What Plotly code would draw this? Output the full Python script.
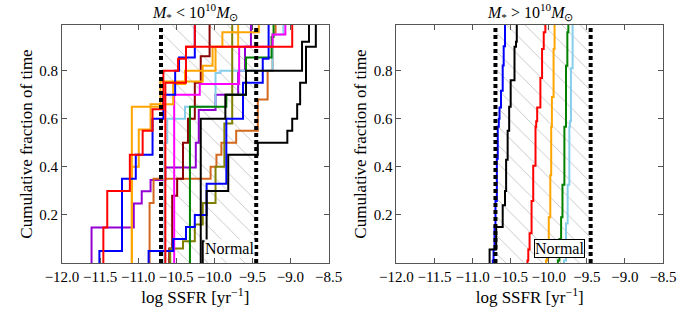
import plotly.graph_objects as go

# ---------------- data ----------------
X_TICKS = [-12.0, -11.5, -11.0, -10.5, -10.0, -9.5, -9.0, -8.5]
Y_TICKS = [0.2, 0.4, 0.6, 0.8]
X_RANGE = [-12.0, -8.5]
Y_RANGE = [0.0, 0.99]
NORMAL_LO = -10.70
NORMAL_HI = -9.45

# left panel (M* < 1e10): ssfr values and cumulative fraction after each value
red_a_x = [-11.457, -11.406, -11.109, -10.941, -10.811, -10.669, -10.476, -10.372, -10.256]
red_a_f = [0.148, 0.30, 0.45, 0.55, 0.64, 0.80, 0.85, 0.90, 1.0]
red_b_x = [-10.643, -10.372, -8.977]
red_b_f = [0.75, 0.90, 1.0]
blue_a_x = [-11.509, -11.212, -11.031, -10.811, -10.669, -10.514, -10.463, -10.256]
blue_a_f = [0.05, 0.35, 0.45, 0.60, 0.70, 0.80, 0.855, 1.0]
blue_b_x = [-10.863, -10.540, -10.372, -10.256, -10.101, -9.842, -9.623, -9.364, -9.287]
blue_b_f = [0.05, 0.10, 0.15, 0.20, 0.33, 0.60, 0.75, 0.85, 1.0]
orange_a_x = [-11.083, -10.708, -10.152, -10.023, -9.687]
orange_a_f = [0.65, 0.755, 0.82, 0.90, 1.0]
orange_b_x = [-11.083, -10.992, -10.837, -10.540, -10.385, -9.984, -9.894, -9.416]
orange_b_f = [0.40, 0.555, 0.66, 0.745, 0.80, 0.90, 0.96, 1.0]
magenta_x = [-10.527, -10.191, -9.674, -9.235, -9.067]
magenta_f = [0.70, 0.745, 0.90, 0.95, 1.0]
purple_x = [-11.612, -11.057, -10.953, -10.837, -10.643, -10.243, -10.204, -9.984, -9.687, -9.597, -9.519]
purple_f = [0.148, 0.248, 0.298, 0.345, 0.397, 0.50, 0.636, 0.70, 0.80, 0.90, 1.0]
green_x = [-10.320, -9.842, -9.584, -9.248, -9.222]
green_f = [0.65, 0.70, 0.855, 0.94, 1.0]
olive_x = [-10.579, -10.411, -10.256, -10.152, -9.984, -9.868, -9.765]
olive_f = [0.06, 0.09, 0.16, 0.25, 0.40, 0.58, 1.0]
maroon_x = [-10.592, -10.553, -10.488, -10.411, -10.346, -10.256, -10.178, -10.062]
maroon_f = [0.06, 0.28, 0.35, 0.50, 0.60, 0.75, 0.86, 1.0]
skyblue_x = [-10.656, -10.618, -10.385, -9.984, -9.920, -9.235, -9.093]
skyblue_f = [0.50, 0.60, 0.65, 0.79, 0.80, 0.95, 1.0]
choc_x = [-10.850, -10.798, -10.049, -9.972, -9.907, -9.713, -9.429, -9.300, -9.235, -9.196]
choc_f = [0.25, 0.35, 0.40, 0.45, 0.50, 0.55, 0.68, 0.80, 0.95, 1.0]
black_a_x = [-10.152, -10.101, -9.817, -9.429, -9.041, -8.977, -8.912, -8.873, -8.796, -8.667]
black_a_f = [0.09, 0.30, 0.45, 0.50, 0.55, 0.60, 0.66, 0.75, 0.90, 1.0]
black_b_x = [-10.178, -9.855, -9.584, -8.848, -8.757]
black_b_f = [0.60, 0.70, 0.80, 0.92, 1.0]

# right panel (M* > 1e10)
r_blue_x = [-10.735, -10.725, -10.712, -10.700, -10.682, -10.670, -10.656, -10.647, -10.627, -10.605, -10.592, -10.575]
r_blue_f = [0.01, 0.056, 0.152, 0.258, 0.434, 0.567, 0.60, 0.647, 0.716, 0.822, 0.902, 1.0]
r_black_x = [-10.777, -10.690, -10.605, -10.575, -10.560, -10.540, -10.520, -10.500, -10.450, -10.430, -10.420]
r_black_f = [0.056, 0.15, 0.24, 0.30, 0.43, 0.55, 0.65, 0.76, 0.90, 0.92, 1.0]
r_red_x = [-10.280, -10.269, -10.252, -10.226, -10.204, -10.174, -10.165, -10.152, -10.110, -10.088, -10.066, -10.045]
r_red_f = [0.01, 0.056, 0.124, 0.258, 0.405, 0.567, 0.59, 0.647, 0.77, 0.89, 0.96, 1.0]
r_orange_x = [-10.036, -10.023, -10.000, -9.980, -9.968, -9.959, -9.937, -9.924]
r_orange_f = [0.01, 0.056, 0.19, 0.365, 0.567, 0.69, 0.89, 1.0]
r_green_x = [-9.880, -9.860, -9.838, -9.820, -9.795, -9.774, -9.756, -9.743]
r_green_f = [0.01, 0.10, 0.19, 0.325, 0.567, 0.82, 0.96, 1.0]
r_sky_x = [-9.800, -9.774, -9.752, -9.730, -9.722, -9.709, -9.687]
r_sky_f = [0.01, 0.164, 0.325, 0.567, 0.59, 0.81, 1.0]

LEFT = [
    ("#9400D3", purple_x, purple_f),
    ("#D2691E", choc_x, choc_f),
    ("#87CEEB", skyblue_x, skyblue_f),
    ("#8B0000", maroon_x, maroon_f),
    ("#808000", olive_x, olive_f),
    ("#008000", green_x, green_f),
    ("#FF00FF", magenta_x, magenta_f),
    ("#FFA500", orange_a_x, orange_a_f),
    ("#FFA500", orange_b_x, orange_b_f),
    ("#0000FF", blue_a_x, blue_a_f),
    ("#0000FF", blue_b_x, blue_b_f),
    ("#FF0000", red_a_x, red_a_f),
    ("#FF0000", red_b_x, red_b_f),
    ("#000000", black_a_x, black_a_f),
    ("#000000", black_b_x, black_b_f),
]
RIGHT = [
    ("#0000FF", r_blue_x, r_blue_f),
    ("#000000", r_black_x, r_black_f),
    ("#FF0000", r_red_x, r_red_f),
    ("#FFA500", r_orange_x, r_orange_f),
    ("#008000", r_green_x, r_green_f),
    ("#87CEEB", r_sky_x, r_sky_f),
]

FONT = "Liberation Serif"
FRAME = "#555555"

fig = go.Figure()

for xa, ya in (("x", "y"), ("x2", "y2")):
    fig.add_trace(go.Scatter(
        x=[NORMAL_LO, NORMAL_HI, NORMAL_HI, NORMAL_LO, NORMAL_LO],
        y=[0, 0, 1.2, 1.2, 0],
        xaxis=xa, yaxis=ya, mode="lines", fill="toself",
        line=dict(width=0, color="rgba(0,0,0,0)"),
        fillcolor="rgba(0,0,0,0)",
        fillpattern=dict(shape="\\", fgcolor="#c4c4c4", bgcolor="rgba(0,0,0,0)",
                         fillmode="replace", size=13, solidity=0.07),
        hoverinfo="skip", showlegend=False,
    ))

for xa, ya, curves in (("x", "y", LEFT), ("x2", "y2", RIGHT)):
    for color, xs, fs in curves:
        fig.add_trace(go.Scatter(
            x=[xs[0]] + list(xs), y=[0.0] + list(fs),
            xaxis=xa, yaxis=ya, mode="lines", line_shape="hv",
            line=dict(color=color, width=2), showlegend=False,
        ))
    for v in (NORMAL_LO, NORMAL_HI):
        fig.add_trace(go.Scatter(
            x=[v, v], y=[0, 1.2], xaxis=xa, yaxis=ya, mode="lines",
            line=dict(color="black", width=4, dash="4px,3px"), showlegend=False,
        ))

tick_text = [f"{v:.1f}".replace("-", "\u2212") for v in X_TICKS]
axis_common = dict(
    showline=True, linecolor=FRAME, linewidth=1, mirror="allticks",
    ticks="inside", ticklen=5, tickcolor=FRAME, showgrid=False, zeroline=False,
    tickfont=dict(family=FONT, size=15, color="black"),
    ticklabeloverflow="allow",
)
xcommon = dict(axis_common, range=X_RANGE, tickvals=X_TICKS, ticktext=tick_text,
               title=dict(text="log SSFR [yr<sup>\u22121</sup>]",
                          font=dict(family=FONT, size=17, color="black"), standoff=4))
ycommon = dict(axis_common, range=Y_RANGE, tickvals=Y_TICKS,
               ticktext=[f"{v:.1f}" for v in Y_TICKS],
               title=dict(text="Cumulative fraction of time",
                          font=dict(family=FONT, size=17, color="black"), standoff=2))

fig.update_layout(
    width=689, height=313,
    margin=dict(l=62, r=16, t=25, b=43),
    paper_bgcolor="white", plot_bgcolor="white",
    xaxis=dict(xcommon, domain=[0.0, 0.4435], anchor="y"),
    yaxis=dict(ycommon, domain=[0, 1], anchor="x"),
    xaxis2=dict(xcommon, domain=[0.5565, 1.0], anchor="y2"),
    yaxis2=dict(ycommon, domain=[0, 1], anchor="x2"),
    showlegend=False,
    hovermode=False,
    annotations=[
        dict(text="<i>M</i><sub>*</sub> &lt; 10<sup>10</sup><i>M</i><sub>\u2299</sub>",
             xref="x domain", yref="paper", x=0.5, y=1.0, yanchor="bottom",
             showarrow=False, font=dict(family=FONT, size=16, color="black")),
        dict(text="<i>M</i><sub>*</sub> &gt; 10<sup>10</sup><i>M</i><sub>\u2299</sub>",
             xref="x2 domain", yref="paper", x=0.5, y=1.0, yanchor="bottom",
             showarrow=False, font=dict(family=FONT, size=16, color="black")),
        dict(text="Normal", xref="x", yref="y", x=-9.80, y=0.062,
             showarrow=False, bgcolor="white", borderpad=0,
             font=dict(family=FONT, size=16, color="black")),
        dict(text="Normal", xref="x2", yref="y2", x=-9.855, y=0.062,
             showarrow=False, bgcolor="white", bordercolor="black", borderwidth=1,
             borderpad=0, font=dict(family=FONT, size=16, color="black")),
    ],
)

fig.write_html("out.html",
               config={"displayModeBar": False, "responsive": False},
               post_script="document.body.style.margin='0';document.body.style.overflow='hidden';")
